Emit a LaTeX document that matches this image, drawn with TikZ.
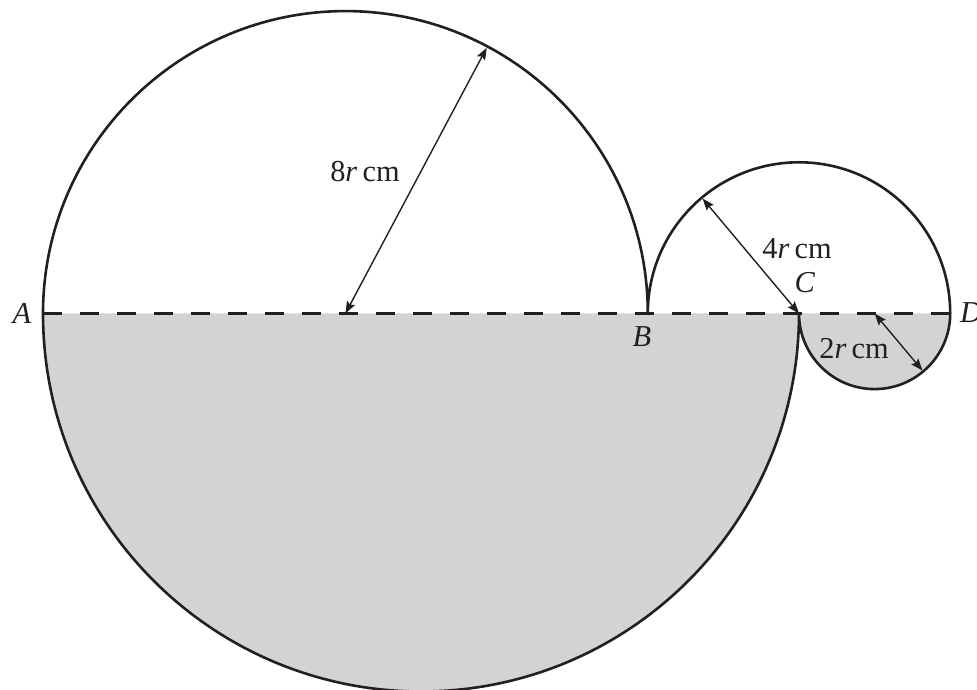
\documentclass[tikz,border=0pt]{standalone}
\usepackage{fontspec}
\setmainfont{Liberation Serif}
\usetikzlibrary{arrows.meta,calc}
\definecolor{shadegray}{RGB}{209,211,212}
\definecolor{inkline}{RGB}{35,31,32}
\begin{document}
\begin{tikzpicture}[x=1bp,y=1bp,
  outline/.style={line width=2.6bp,draw=inkline,line join=round},
  dashline/.style={line width=2.6bp,draw=inkline,dash pattern=on 19bp off 18bp},
  dimarrow/.style={line width=1.4bp,draw=inkline,{Stealth[length=12bp,width=9bp,inset=2bp]}-{Stealth[length=12bp,width=9bp,inset=2bp]}},
  lbl/.style={font=\fontsize{30.5}{34}\selectfont,inner sep=0pt,text=inkline}]
\useasboundingbox (0,0) rectangle (977,690);
\coordinate (A) at (43,376.5);
\coordinate (B) at (647.8,376.5);
\coordinate (C) at (799,376.5);
\coordinate (D) at (950.2,376.5);
\coordinate (O1) at (345.4,376.5);
\coordinate (O4) at (874.6,376.5);
\coordinate (P1) at ($(O1)+(62:301)$);
\coordinate (P2) at ($(C)+(130:150)$);
\coordinate (P3) at ($(O4)+(-50:74.5)$);
% shaded lower halves
\fill[shadegray] (A) arc[start angle=180,end angle=360,radius=378] -- cycle;
\fill[shadegray] (C) arc[start angle=180,end angle=360,radius=75.6] -- cycle;
% outline
\draw[outline] (A) arc[start angle=180,end angle=0,radius=302.4]
  arc[start angle=180,end angle=0,radius=151.2]
  arc[start angle=0,end angle=-180,radius=75.6]
  arc[start angle=0,end angle=-180,radius=378];
% diameter line
\draw[dashline] (A) -- (D);
% radius arrows
\draw[dimarrow] (O1) -- (P1);
\draw[dimarrow] (C) -- (P2);
\draw[dimarrow] (O4) -- (P3);
% labels
\node[lbl] (l8) at (365,518) {8\textit{r}\hspace{0.17em}cm};
\node[lbl] (l4) at (797,441) {4\textit{r}\hspace{0.17em}cm};
\node[lbl] (l2) at (854,341) {2\textit{r}\hspace{0.17em}cm};
\node[lbl] (lA) at (22,377) {\textit{A}};
\node[lbl] (lB) at (642,353) {\textit{B}};
\node[lbl] (lC) at (805,407) {\textit{C}};
\node[lbl,anchor=west] (lD) at (960,377) {\textit{D}};
\end{tikzpicture}
\end{document}
